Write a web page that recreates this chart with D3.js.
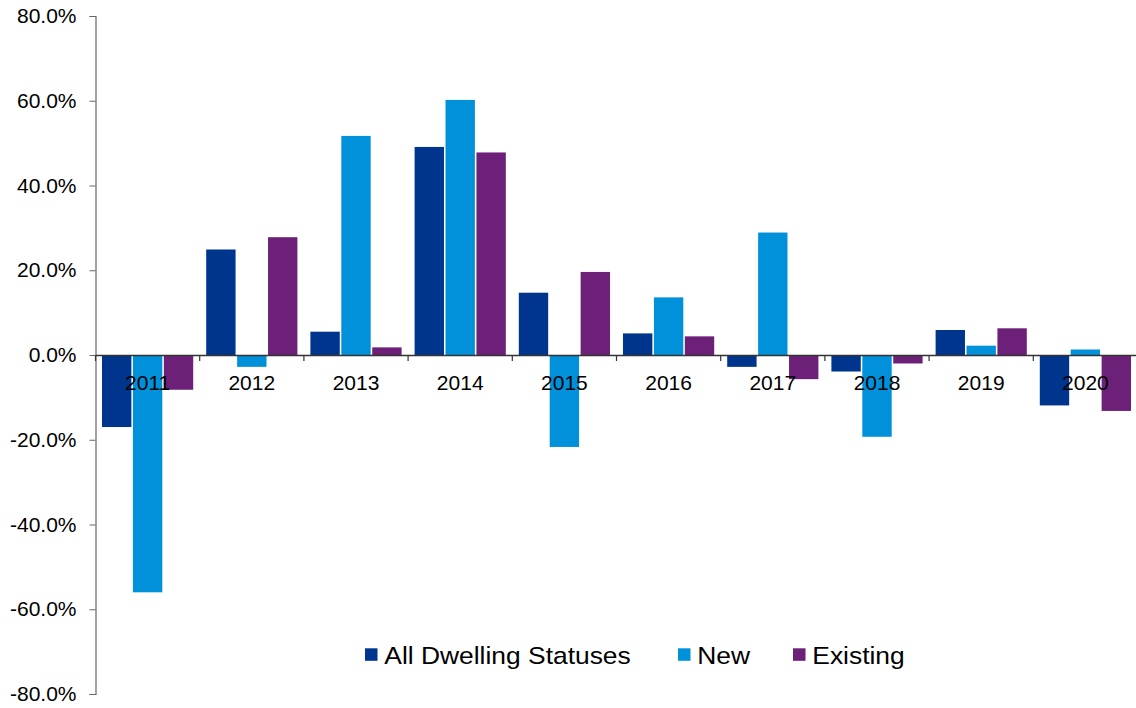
<!DOCTYPE html>
<html>
<head>
<meta charset="utf-8">
<script src="https://d3js.org/d3.v7.min.js"></script>
<style>
  body { margin: 0; background: white; }
  text { font-family: "Liberation Sans", Arial, sans-serif; }
</style>
</head>
<body>
<div id="chartHolder"></div>
<script>

// data (percent change)
var years = ["2011", "2012", "2013", "2014", "2015", "2016", "2017", "2018", "2019", "2020"];
var seriesNames = ["All Dwelling Statuses", "New", "Existing"];
var allDwelling = [-17.0, 24.9, 5.5, 49.1, 14.7, 5.1, -2.8, -3.9, 5.9, -11.9];
var newDwelling = [-56.0, -2.8, 51.7, 60.2, -21.7, 13.6, 28.9, -19.3, 2.2, 1.3];
var existing = [-8.2, 27.8, 1.8, 47.8, 19.6, 4.4, -5.7, -2.0, 6.3, -13.2];
var yTicks = [-80, -60, -40, -20, 0, 20, 40, 60, 80];

var colors = ["#00358e", "#0091da", "#6d2077"];

var width = 1136;
var height = 708;
var margin = {top: 16, left: 95.5, bottom: 14, right: -1.5};

var svg = d3.select("#chartHolder")
    .append("svg")
        .attr("width", width)
        .attr("height", height)
        .style("background-color", "white");

var xVerdi = d3.scaleBand()
    .domain(years)
    .range([margin.left, width - margin.right])
    .padding(0);

var xSerie = d3.scaleBand()
    .domain(seriesNames)
    .range([6.5, xVerdi.bandwidth() - 6.5])
    .paddingInner(0.05);

var yVerdi = d3.scaleLinear()
    .domain([-80, 80])
    .range([height - margin.bottom, margin.top]);

var rows = years.map(function(y, i){
    return {year: y, values: [allDwelling[i], newDwelling[i], existing[i]]};
});

// bars
var groups = svg.selectAll(".gruppe")
    .data(rows)
    .enter()
    .append("g")
    .attr("class", "gruppe")
    .attr("transform", function(d){ return "translate(" + xVerdi(d.year) + ",0)"; });

groups.selectAll("rect")
    .data(function(d){
        return d.values.map(function(v, k){ return {name: seriesNames[k], value: v, k: k}; });
    })
    .enter()
    .append("rect")
    .attr("x", function(d){ return xSerie(d.name); })
    .attr("y", function(d){ return yVerdi(Math.max(0, d.value)); })
    .attr("width", xSerie.bandwidth())
    .attr("height", function(d){ return Math.abs(yVerdi(d.value) - yVerdi(0)); })
    .attr("fill", function(d){ return colors[d.k]; });

// y axis
var yAxis = svg.append("g")
    .attr("transform", "translate(" + margin.left + ",0)")
    .call(d3.axisLeft(yVerdi)
        .tickValues(yTicks)
        .tickSize(6)
        .tickPadding(13)
        .tickFormat(function(d){ return d.toFixed(1) + "%"; }));
yAxis.select(".domain").attr("stroke", "#666").attr("stroke-width", 1.2);
yAxis.selectAll(".tick line").attr("stroke", "#666");
yAxis.selectAll(".tick text")
    .attr("fill", "#000")
    .style("font-size", "21px")
    .attr("font-family", null);

// x axis at zero
var xAxis = svg.append("g")
    .attr("transform", "translate(0," + yVerdi(0) + ")")
    .call(d3.axisBottom(xVerdi).tickSize(0).tickPadding(20));
xAxis.select(".domain").attr("stroke", "#333").attr("stroke-width", 1.5);
xAxis.selectAll(".tick text")
    .attr("fill", "#000")
    .style("font-size", "21px")
    .attr("font-family", null);

// small tick marks between year groups
svg.selectAll(".xskille")
    .data(years)
    .enter()
    .append("line")
    .attr("class", "xskille")
    .attr("x1", function(d){ return xVerdi(d); })
    .attr("x2", function(d){ return xVerdi(d); })
    .attr("y1", yVerdi(0))
    .attr("y2", yVerdi(0) + 6)
    .attr("stroke", "#333")
    .attr("stroke-width", 1.2);

// legend
var legendX = [365, 678, 793];
var legend = svg.selectAll(".legend")
    .data(seriesNames)
    .enter()
    .append("g")
    .attr("class", "legend")
    .attr("transform", function(d, i){ return "translate(" + legendX[i] + ",648.3)"; });

legend.append("rect")
    .attr("width", 12.5)
    .attr("height", 12.5)
    .attr("fill", function(d, i){ return colors[i]; });

legend.append("text")
    .attr("transform", "translate(19.3,16) scale(1.1,1)")
    .style("font-size", "24px")
    .attr("fill", "#000")
    .text(function(d){ return d; });

</script>
</body>
</html>
